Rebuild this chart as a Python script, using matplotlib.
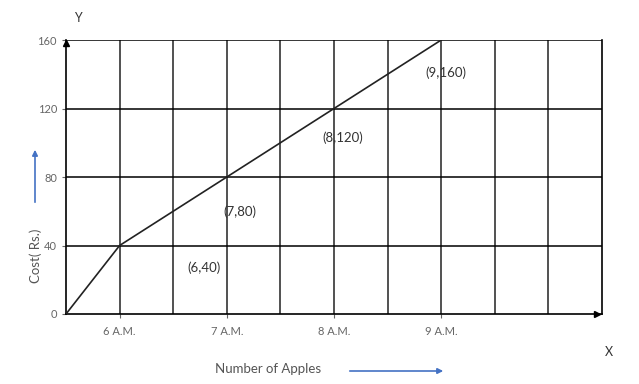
import matplotlib
matplotlib.use("Agg")
import matplotlib.pyplot as plt

# hours (6 A.M. = 6) and cost in Rs.
hours = [5.5, 6, 7, 8, 9]
cost = [0, 40, 80, 120, 160]
point_labels = ["(6,40)", "(7,80)", "(8,120)", "(9,160)"]
label_pos = [(6.63, 27), (6.97, 60), (7.89, 103), (8.85, 141)]
x_ticks = [6, 7, 8, 9]
x_tick_labels = ["6 A.M.", "7 A.M.", "8 A.M.", "9 A.M."]
y_ticks = [0, 40, 80, 120, 160]
grid_x = [6.0, 6.5, 7.0, 7.5, 8.0, 8.5, 9.0, 9.5, 10.0]

plt.rcParams['font.family'] = ['Lato', 'DejaVu Sans']

fig = plt.figure(figsize=(6.39, 3.84), dpi=100)
ax = fig.add_axes([0.1033, 0.1823, 0.8388, 0.7135])
ax.set_xlim(5.5, 10.5)
ax.set_ylim(0, 160)

for gx in grid_x:
    ax.axvline(gx, color="#222222", lw=1.1, zorder=1)
for gy in y_ticks[1:]:
    ax.axhline(gy, color="black", lw=1.1, zorder=1)

ax.plot(hours, cost, color="#222222", lw=1.2, zorder=3)

for txt, (px, py) in zip(point_labels, label_pos):
    ax.text(px, py, txt, fontsize=9.5, color="#333333", ha="left", va="center")

for side in ["left", "bottom", "right"]:
    ax.spines[side].set_linewidth(1.2)
ax.spines["top"].set_visible(False)

# arrow heads on the axes
ax.plot([5.5], [158], marker="^", color="black", markersize=5, clip_on=False, zorder=4)
ax.plot([10.45], [0], marker=">", color="black", markersize=5, clip_on=False, zorder=4)

ax.set_xticks(x_ticks)
ax.set_xticklabels(x_tick_labels)
ax.set_yticks(y_ticks)
ax.tick_params(axis="both", labelsize=8, colors="#666666", length=3, width=0.8)
ax.tick_params(axis="x", pad=6)

fig.text(78 / 639, 1 - 18 / 384, "Y", fontsize=9, color="#333333", ha="center", va="center")
fig.text(609 / 639, 1 - 352 / 384, "X", fontsize=9, color="#333333", ha="center", va="center")
fig.text(268 / 639, 1 - 369 / 384, "Number of Apples", fontsize=9.5, color="#555555",
         ha="center", va="center")
fig.text(36 / 639, 1 - 256 / 384, "Cost( Rs.)", fontsize=9.5, color="#555555",
         ha="center", va="center", rotation=90)

# blue arrows beside the axis names
fig.add_artist(matplotlib.patches.FancyArrowPatch(
    (347 / 639, 1 - 371 / 384), (446 / 639, 1 - 371 / 384),
    transform=fig.transFigure, arrowstyle="-|>", mutation_scale=8,
    color="#4472C4", lw=1.2))
fig.add_artist(matplotlib.patches.FancyArrowPatch(
    (35 / 639, 1 - 205 / 384), (35 / 639, 1 - 147 / 384),
    transform=fig.transFigure, arrowstyle="-|>", mutation_scale=8,
    color="#4472C4", lw=1.2))

fig.savefig("out.png", dpi=100)
